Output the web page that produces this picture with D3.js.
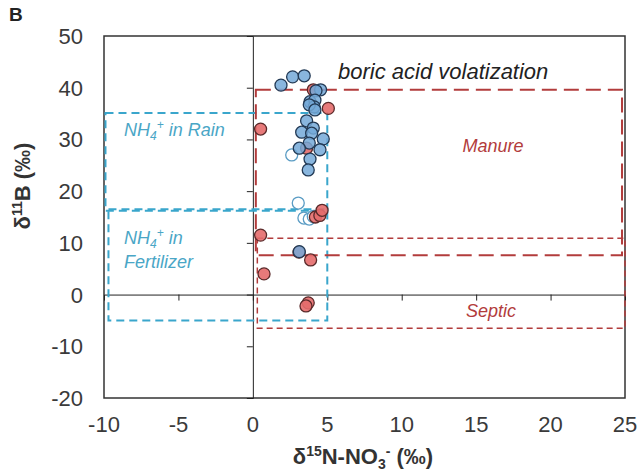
<!DOCTYPE html>
<html>
<head>
<meta charset="utf-8">
<script src="https://cdn.jsdelivr.net/npm/d3@7"></script>
<style>
  body { margin: 0; background: #fff; }
  svg { font-family: "Liberation Sans", Arial, sans-serif; }
</style>
</head>
<body>
<div id="main"></div>
<script>
// values
const blueX = [1.89, 2.67, 3.45, 4.55, 4.24, 3.84, 4.17, 4.12, 3.79, 4.17, 3.61, 4.06, 3.28, 3.95, 4.73, 3.79, 3.12, 4.51, 3.84, 3.72, 3.12];
const blueY = [40.5, 42.1, 42.3, 39.6, 39.4, 37.3, 37.6, 36.3, 36.7, 35.7, 33.6, 32.2, 31.4, 31.2, 30.1, 29.3, 28.3, 28.0, 26.2, 24.1, 8.3];
const redX = [4.06, 5.07, 0.52, 3.61, 4.2, 4.5, 4.65, 0.52, 3.88, 0.75, 3.72, 3.57, 3.1];
const redY = [39.6, 36.0, 32.0, 28.3, 15.0, 15.3, 16.3, 11.5, 6.7, 4.0, -1.6, -2.2, 8.2];
const openX = [2.61, 3.05, 3.43, 3.79, 4.06];
const openY = [27.0, 17.7, 14.8, 14.6, 15.1];

const xTicks = [-10, -5, 0, 5, 10, 15, 20, 25];
const yTicks = [-20, -10, 0, 10, 20, 30, 40, 50];

// source boxes [x0, x1, y0, y1]
const rainBox = [-9.9, 5.0, 16.2, 35.1];
const fertBox = [-9.7, 5.0, -5.0, 16.5];
const manureBox = [0.2, 24.8, 7.6, 39.6];
const septicBox = [0.3, 25.0, -6.5, 10.9];

const width = 639, height = 473;
const margin = {top: 36, right: 14, bottom: 75, left: 104};

const x = d3.scaleLinear().domain([-10, 25]).range([margin.left, width - margin.right]);
const y = d3.scaleLinear().domain([-20, 50]).range([height - margin.bottom, margin.top]);

const svg = d3.select("#main").append("svg")
    .attr("width", width)
    .attr("height", height);

// frame
svg.append("rect")
    .attr("x", x(-10)).attr("y", y(50))
    .attr("width", x(25) - x(-10)).attr("height", y(-20) - y(50))
    .attr("fill", "none").attr("stroke", "#333").attr("stroke-width", 1.5);

// axes through the origin
svg.append("g")
    .attr("transform", `translate(0,${y(0)})`)
    .call(d3.axisBottom(x).tickValues(xTicks.filter(d => d > -10 && d < 25)).tickSize(6).tickFormat(""))
    .call(g => g.select(".domain").attr("stroke", "#222"))
    .call(g => g.selectAll(".tick line").attr("stroke", "#222"));

svg.append("g")
    .attr("transform", `translate(${x(0)},0)`)
    .call(d3.axisLeft(y).tickValues(yTicks.filter(d => d > -20 && d < 50)).tickSize(6).tickFormat(""))
    .call(g => g.select(".domain").attr("stroke", "#222"))
    .call(g => g.selectAll(".tick line").attr("stroke", "#222"));

// tick labels along the frame
svg.append("g")
    .selectAll("text")
    .data(xTicks)
    .join("text")
    .attr("x", d => x(d))
    .attr("y", y(-20) + 34)
    .attr("text-anchor", "middle")
    .attr("font-size", 22)
    .attr("fill", "#3a3a3a")
    .text(d => d);

svg.append("g")
    .selectAll("text")
    .data(yTicks)
    .join("text")
    .attr("x", 83)
    .attr("y", d => y(d) + 8)
    .attr("text-anchor", "end")
    .attr("font-size", 22)
    .attr("fill", "#3a3a3a")
    .text(d => d);

// boxes
function box(b, color, dash, w) {
    svg.append("rect")
        .attr("x", x(b[0])).attr("y", y(b[3]))
        .attr("width", x(b[1]) - x(b[0])).attr("height", y(b[2]) - y(b[3]))
        .attr("fill", "none")
        .attr("stroke", color)
        .attr("stroke-width", w)
        .attr("stroke-dasharray", dash);
}
box(rainBox, "#3aa6cc", "8,5", 2);
box(fertBox, "#3aa6cc", "8,5", 2);
box(manureBox, "#b23c3c", "15,7", 2);
box(septicBox, "#b23c3c", "6,4", 1.5);

// labels
const nh4 = (g, px, py, rest) => {
    const t = g.append("text")
        .attr("x", px).attr("y", py)
        .attr("font-size", 18).attr("font-style", "italic").attr("fill", "#4aa6c6");
    t.append("tspan").text("NH");
    t.append("tspan").attr("font-size", 12).attr("dy", 4).text("4");
    t.append("tspan").attr("font-size", 12).attr("dy", -11).text("+");
    t.append("tspan").attr("dy", 7).text(rest);
};
nh4(svg, 124, 136, " in Rain");
nh4(svg, 124, 244, " in");
svg.append("text").attr("x", 124).attr("y", 268)
    .attr("font-size", 18).attr("font-style", "italic").attr("fill", "#4aa6c6")
    .text("Fertilizer");

svg.append("text").attr("x", 338).attr("y", 79)
    .attr("font-size", 22).attr("font-style", "italic").attr("fill", "#222")
    .text("boric acid volatization");
svg.append("text").attr("x", 493).attr("y", 152)
    .attr("text-anchor", "middle")
    .attr("font-size", 18).attr("font-style", "italic").attr("fill", "#b23c3c")
    .text("Manure");
svg.append("text").attr("x", 491).attr("y", 317)
    .attr("text-anchor", "middle")
    .attr("font-size", 18).attr("font-style", "italic").attr("fill", "#b23c3c")
    .text("Septic");

// points
const pts = (xs, ys, fill, stroke, op) => svg.append("g")
    .selectAll("circle")
    .data(xs.map((d, i) => [d, ys[i]]))
    .join("circle")
    .attr("cx", d => x(d[0]))
    .attr("cy", d => y(d[1]))
    .attr("r", 6)
    .attr("fill", fill)
    .attr("fill-opacity", op)
    .attr("stroke", stroke)
    .attr("stroke-width", 1.3);

pts(openX, openY, "#fff", "#5a9cc4", 1);
pts(redX, redY, "#e46c6c", "#5a2a2a", 0.9);
pts(blueX, blueY, "#74a9d8", "#233a55", 0.85);

// titles
svg.append("text").attr("x", 9).attr("y", 21)
    .attr("font-size", 19).attr("font-weight", "bold").attr("fill", "#222")
    .text("B");

const yl = svg.append("text")
    .attr("transform", `translate(30,${y(21)}) rotate(-90)`)
    .attr("text-anchor", "middle")
    .attr("font-size", 22).attr("font-weight", "bold").attr("fill", "#333");
yl.append("tspan").text("δ");
yl.append("tspan").attr("font-size", 14).attr("dy", -8).text("11");
yl.append("tspan").attr("dy", 8).text("B (‰)");

const xl = svg.append("text")
    .attr("x", 363).attr("y", 464)
    .attr("text-anchor", "middle")
    .attr("font-size", 22).attr("font-weight", "bold").attr("fill", "#333");
xl.append("tspan").text("δ");
xl.append("tspan").attr("font-size", 14).attr("dy", -8).text("15");
xl.append("tspan").attr("dy", 8).text("N-NO");
xl.append("tspan").attr("font-size", 14).attr("dy", 5).text("3");
xl.append("tspan").attr("font-size", 14).attr("dy", -13).text("-");
xl.append("tspan").attr("dy", 8).text(" (‰)");
</script>
</body>
</html>
